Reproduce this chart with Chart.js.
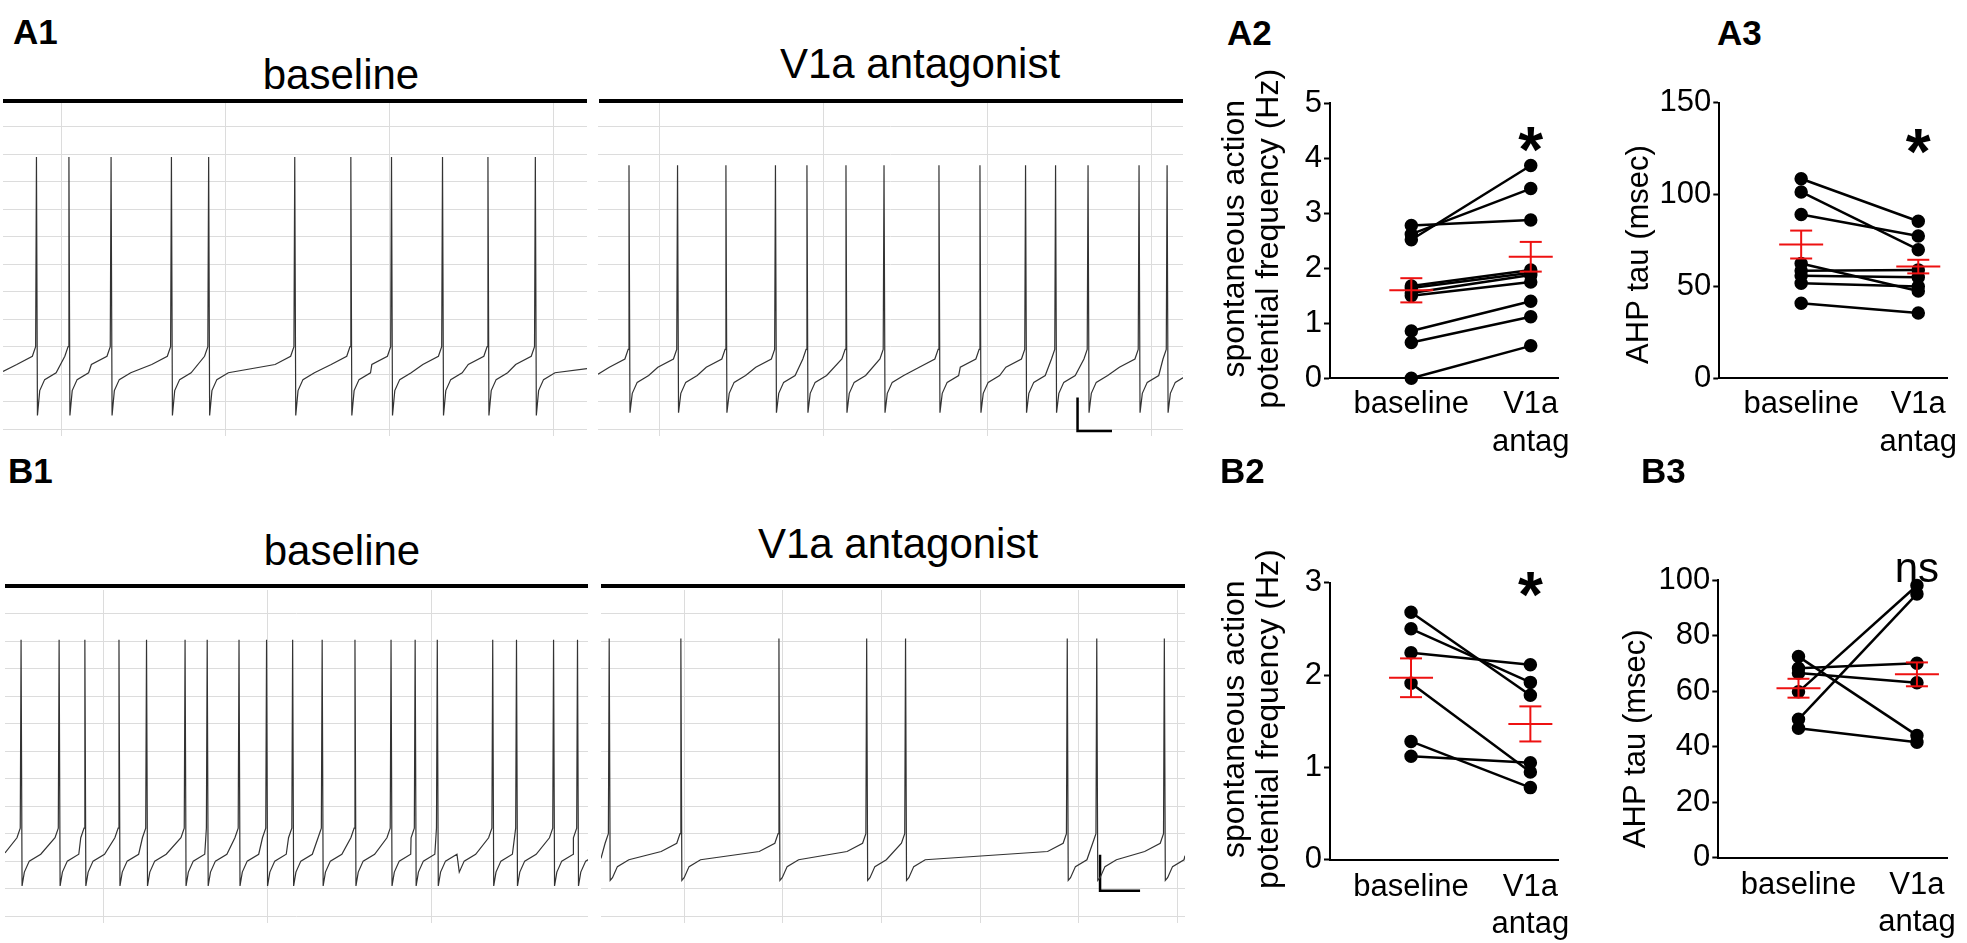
<!DOCTYPE html>
<html>
<head>
<meta charset="utf-8">
<script src="https://cdn.jsdelivr.net/npm/chart.js@4.4.1/dist/chart.umd.min.js"></script>
<style>
  body { margin: 0; background: #fff; width: 1967px; height: 943px; position: relative; overflow: hidden;
         font-family: "Liberation Sans", Arial, sans-serif; color: #000; }
  canvas { position: absolute; }
  .lbl { position: absolute; font-weight: bold; font-size: 35px; line-height: 1; }
  .head { position: absolute; font-size: 42px; line-height: 1; white-space: nowrap; transform: translateX(-50%); }
  .bar { position: absolute; height: 4px; background: #000; }
</style>
</head>
<body>
<canvas id="a1base" width="584" height="333" style="left:3px;top:103px"></canvas>
<canvas id="a1ant" width="585" height="333" style="left:598px;top:103px"></canvas>
<canvas id="b1base" width="583" height="333" style="left:5px;top:590px"></canvas>
<canvas id="b1ant" width="584" height="333" style="left:601px;top:590px"></canvas>
<canvas id="a2" width="390" height="420" style="left:1190px;top:60px"></canvas>
<canvas id="a3" width="387" height="420" style="left:1580px;top:60px"></canvas>
<canvas id="b2" width="390" height="403" style="left:1190px;top:540px"></canvas>
<canvas id="b3" width="387" height="403" style="left:1580px;top:540px"></canvas>

<div class="lbl" style="left:13px;top:14px">A1</div>
<div class="lbl" style="left:1227px;top:15px">A2</div>
<div class="lbl" style="left:1717px;top:15px">A3</div>
<div class="lbl" style="left:8px;top:453px">B1</div>
<div class="lbl" style="left:1220px;top:453px">B2</div>
<div class="lbl" style="left:1641px;top:453px">B3</div>

<div class="head" id="a1h0" style="left:341px;top:54px"></div>
<div class="head" id="a1h1" style="left:920px;top:43px"></div>
<div class="head" id="b1h0" style="left:342px;top:530px"></div>
<div class="head" id="b1h1" style="left:898px;top:523px"></div>
<div class="bar" style="left:3px;top:99px;width:584px"></div>
<div class="bar" style="left:599px;top:99px;width:584px"></div>
<div class="bar" style="left:5px;top:584px;width:583px"></div>
<div class="bar" style="left:601px;top:584px;width:584px"></div>

<script>
// ---- recordings (A1, B1): spike times in s from the start of each sweep ----
const a1BaseSpikes = [0.204, 0.402, 0.659, 1.027, 1.254, 1.779, 2.121, 2.369, 2.680, 2.957, 3.246];
const a1AntSpikes = [0.189, 0.485, 0.780, 1.082, 1.274, 1.512, 1.744, 2.079, 2.329, 2.607, 2.790, 2.988, 3.299, 3.470];
const b1BaseSpikes = [0.098, 0.330, 0.487, 0.695, 0.863, 1.098, 1.233, 1.427, 1.595, 1.754, 1.934, 2.134,
                      2.354, 2.501, 2.636, 2.750, 2.974, 3.119, 3.345, 3.491];
const b1AntSpikes = [0.050, 0.487, 1.085, 1.620, 1.857, 2.843, 3.023, 3.435];
// sweep length (s)
const sweepDur = [3.561, 3.567, 3.555, 3.561];
// resting, peak, AHP trough (mV)
const a1BaseLevels = [-58, 19, -75];
const a1AntLevels = [-59, 16, -74];
const b1BaseLevels = [-56, 20.5, -69];
const b1AntLevels = [-58, 21, -67];
// action potential template: time offset from spike (s) and voltage relative to rest (mV)
const apOffsets = [-0.12, -0.025, -0.005, 0, 0.006, 0.02, 0.05, 0.12];
const apRelRest = [1.5, 4.5, 8, null, null, -8, -4, -1.5];
// scale bars [s, mV]
const a1ScaleBar = [[2.924, -68.5], [2.924, -80.7], [3.134, -80.7]];
const b1ScaleBar = [[3.043, -57.7], [3.043, -70.8], [3.287, -70.8]];

const conditions = ['baseline', 'V1a antagonist'];
const xLabels = [['baseline'], ['V1a', 'antag']];
const freqTitle = ['spontaneous action', 'potential frequency (Hz)'];
const tauTitle = ['AHP tau (msec)'];

// ---- paired data ----
const a2Baseline = [2.78, 2.62, 2.52, 1.68, 1.64, 1.55, 1.50, 0.86, 0.65, 0.00];
const a2Antag    = [2.88, 3.45, 3.87, 1.97, 1.92, 1.88, 1.75, 1.40, 1.12, 0.59];
const a2Mean = [1.60, 2.21];
const a2Sem  = [0.22, 0.27];

const a3Baseline = [108.6, 101.4, 89.2, 62.5, 58.5, 55.8, 51.7, 40.9];
const a3Antag    = [85.5, 70.0, 77.5, 47.5, 59.0, 55.0, 50.0, 35.5];
const a3Mean = [72.8, 60.8];
const a3Sem  = [7.6, 3.7];

const b2Baseline = [2.68, 2.50, 2.24, 1.91, 1.28, 1.12];
const b2Antag    = [1.78, 1.92, 2.11, 0.95, 0.78, 1.05];
const b2Mean = [1.97, 1.47];
const b2Sem  = [0.21, 0.19];

const b3Baseline = [72.4, 68.2, 66.5, 59.7, 49.8, 46.6];
const b3Antag    = [44.0, 70.0, 63.0, 98.0, 95.0, 41.5];
const b3Mean = [61.0, 66.0];
const b3Sem  = [3.4, 4.3];

const sigMarks = ['*', '*', '*', 'ns'];

const fontFam = '"Liberation Sans", Arial, sans-serif';

document.getElementById('a1h0').textContent = conditions[0];
document.getElementById('a1h1').textContent = conditions[1];
document.getElementById('b1h0').textContent = conditions[0];
document.getElementById('b1h1').textContent = conditions[1];

function buildTrace(spikes, levels, dur) {
  const [rest, peak, trough] = levels;
  const pts = [{x: 0, y: rest - 1}];
  spikes.forEach(t => {
    apOffsets.forEach((dt, k) => {
      let v = rest + apRelRest[k];
      if (dt === 0) v = peak;
      if (k === 4) v = trough;
      const x = t + dt;
      // skip template points that would overlap the previous spike
      if (x > pts[pts.length - 1].x) pts.push({x, y: v});
    });
  });
  pts.push({x: dur, y: rest});
  return pts;
}

function traceChart(id, pts, dur, grid, bar) {
  const datasets = [{data: pts, borderColor: '#333', borderWidth: 1.2, pointRadius: 0, tension: 0}];
  if (bar) {
    datasets.push({data: bar.map(p => ({x: p[0], y: p[1]})), borderColor: '#000', borderWidth: 2.5,
                   pointRadius: 0, clip: false});
  }
  new Chart(document.getElementById(id), {
    type: 'line',
    data: {datasets},
    options: {
      animation: false, responsive: false, devicePixelRatio: 1,
      layout: {padding: 0},
      plugins: {legend: {display: false}, tooltip: {enabled: false}},
      scales: {
        x: {type: 'linear', min: 0, max: dur,
            afterBuildTicks: ax => {
              ax.ticks = [];
              for (let v = grid[0]; v < dur; v += grid[1]) ax.ticks.push({value: v});
            },
            ticks: {display: false}, grid: {color: '#dcdcdc', drawTicks: false}, border: {display: false}},
        y: {min: -82.5, max: 38.6,
            afterBuildTicks: ax => {
              ax.ticks = [];
              for (let v = -80; v <= 30; v += 10) ax.ticks.push({value: v});
            },
            ticks: {display: false}, grid: {color: '#dcdcdc', drawTicks: false}, border: {display: false}}
      }
    }
  });
}

traceChart('a1base', buildTrace(a1BaseSpikes, a1BaseLevels, sweepDur[0]), sweepDur[0], [0.354, 1]);
traceChart('a1ant', buildTrace(a1AntSpikes, a1AntLevels, sweepDur[1]), sweepDur[1], [0.372, 1], a1ScaleBar);
traceChart('b1base', buildTrace(b1BaseSpikes, b1BaseLevels, sweepDur[2]), sweepDur[2], [0.599, 1]);
traceChart('b1ant', buildTrace(b1AntSpikes, b1AntLevels, sweepDur[3]), sweepDur[3], [0.508, 0.601], b1ScaleBar);

function pairedChart(cfg) {
  const datasets = cfg.before.map((b, i) => ({
    data: [{x: 1, y: b}, {x: 2, y: cfg.after[i]}],
    showLine: true, borderColor: '#000', backgroundColor: '#000',
    borderWidth: 2.5, pointRadius: 5.5, pointHoverRadius: 5.5, clip: false
  }));

  // red mean +/- SEM, significance mark and rotated y title
  const extras = {
    id: 'extras',
    afterDatasetsDraw(chart) {
      const {ctx, chartArea, scales: {x, y}} = chart;
      ctx.save();
      ctx.strokeStyle = '#ee1111';
      ctx.lineWidth = 2;
      const seg = (x0, y0, x1, y1) => { ctx.beginPath(); ctx.moveTo(x0, y0); ctx.lineTo(x1, y1); ctx.stroke(); };
      cfg.mean.forEach((m, i) => {
        const cx = x.getPixelForValue(i + 1);
        const ym = y.getPixelForValue(m);
        const yh = y.getPixelForValue(m + cfg.sem[i]);
        const yl = y.getPixelForValue(m - cfg.sem[i]);
        seg(cx - 22, ym, cx + 22, ym);
        seg(cx, yh, cx, yl);
        seg(cx - 11, yh, cx + 11, yh);
        seg(cx - 11, yl, cx + 11, yl);
      });
      ctx.fillStyle = '#000';
      ctx.textAlign = 'center';
      ctx.textBaseline = 'middle';
      const sx = x.getPixelForValue(2), sy = y.getPixelForValue(cfg.sigAt);
      if (cfg.sig === '*') {
        ctx.font = 'bold 64px ' + fontFam;
        ctx.fillText(cfg.sig, sx, sy + 11);
      } else {
        ctx.font = '42px ' + fontFam;
        ctx.fillText(cfg.sig, sx, sy + 4);
      }
      ctx.font = cfg.tSize + 'px ' + fontFam;
      ctx.translate(cfg.tX, (chartArea.top + chartArea.bottom) / 2 + cfg.tShift);
      ctx.rotate(-Math.PI / 2);
      cfg.title.forEach((line, k) => ctx.fillText(line, 0, k * cfg.tLine));
      ctx.restore();
    }
  };

  new Chart(document.getElementById(cfg.id), {
    type: 'scatter',
    data: {datasets},
    options: {
      animation: false, responsive: false, devicePixelRatio: 1,
      layout: {padding: cfg.pad},
      plugins: {legend: {display: false}, tooltip: {enabled: false}},
      scales: {
        x: {type: 'linear', min: cfg.xMin, max: cfg.xMax,
            afterBuildTicks: ax => { ax.ticks = [{value: 1}, {value: 2}]; },
            afterFit: s => { s.height = cfg.xH; },
            ticks: {callback: (v, i) => xLabels[i], color: '#000', padding: cfg.xPad,
                    font: {family: fontFam, size: 31, lineHeight: 1.2}, maxRotation: 0, autoSkip: false},
            grid: {display: false, drawTicks: false},
            border: {color: '#000', width: 2}},
        y: {min: 0, max: cfg.yMax,
            afterBuildTicks: ax => {
              ax.ticks = [];
              for (let v = 0; v <= cfg.yMax; v += cfg.yStep) ax.ticks.push({value: v});
            },
            afterFit: s => { s.width = cfg.yW; },
            ticks: {color: '#000', padding: 2, font: {family: fontFam, size: 31}},
            grid: {drawOnChartArea: false, tickLength: 6, tickColor: '#000', tickWidth: 2},
            border: {color: '#000', width: 2}}
      }
    },
    plugins: [extras]
  });
}

pairedChart({id: 'a2', before: a2Baseline, after: a2Antag, mean: a2Mean, sem: a2Sem, yMax: 5, yStep: 1,
  sig: sigMarks[0], sigAt: 4.28, title: freqTitle, tX: 45, tShift: -2, tSize: 32, tLine: 34,
  yW: 140, xH: 101.7, pad: {top: 43.3, right: 20, left: 0, bottom: 0}, xMin: 0.319, xMax: 2.236, xPad: 8});
pairedChart({id: 'a3', before: a3Baseline, after: a3Antag, mean: a3Mean, sem: a3Sem, yMax: 150, yStep: 50,
  sig: sigMarks[1], sigAt: 127, title: tauTitle, tX: 59, tShift: 14, tSize: 31, tLine: 33,
  yW: 139.3, xH: 101.7, pad: {top: 42.7, right: 15, left: 0, bottom: 0}, xMin: 0.301, xMax: 2.252, xPad: 8});
pairedChart({id: 'b2', before: b2Baseline, after: b2Antag, mean: b2Mean, sem: b2Sem, yMax: 3, yStep: 1,
  sig: sigMarks[2], sigAt: 2.94, title: freqTitle, tX: 45, tShift: -2, tSize: 32, tLine: 34,
  yW: 140, xH: 83.4, pad: {top: 42.7, right: 15, left: 0, bottom: 0}, xMin: 0.321, xMax: 2.236, xPad: 9});
pairedChart({id: 'b3', before: b3Baseline, after: b3Antag, mean: b3Mean, sem: b3Sem, yMax: 100, yStep: 20,
  sig: sigMarks[3], sigAt: 105, title: tauTitle, tX: 56, tShift: 20, tSize: 31, tLine: 33,
  yW: 138.3, xH: 85.5, pad: {top: 40, right: 17, left: 0, bottom: 0}, xMin: 0.323, xMax: 2.259, xPad: 9});
</script>
</body>
</html>
